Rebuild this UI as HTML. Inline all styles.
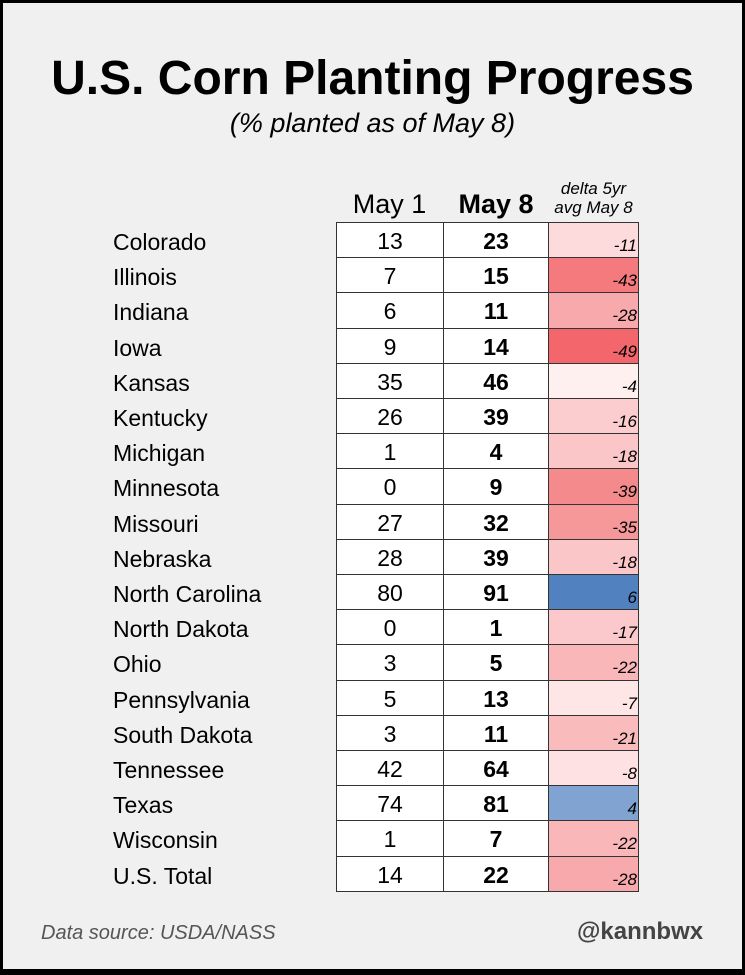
<!DOCTYPE html><html><head><style>
body{margin:0;width:745px;height:975px;background:#000;font-family:"Liberation Sans",Arial,sans-serif;}
#f{position:absolute;left:3px;top:3px;width:739px;height:966px;background:#f0f0f0;}
.a{position:absolute;white-space:nowrap;}
.c{position:absolute;box-sizing:border-box;border:1px solid #333;text-align:center;font-size:23px;}
</style></head><body><div id="f"></div>
<div class="a" style="left:0;width:745px;top:51px;text-align:center;font-size:48px;font-weight:bold;">U.S. Corn Planting Progress</div>
<div class="a" style="left:0;width:745px;top:108px;text-align:center;font-size:27px;font-style:italic;">(% planted as of May 8)</div>
<div class="a" style="left:336px;width:107px;top:189px;text-align:center;font-size:27px;">May 1</div>
<div class="a" style="left:443px;width:106px;top:189px;text-align:center;font-size:27px;font-weight:bold;">May 8</div>
<div class="a" style="left:548px;width:91px;top:179px;text-align:center;font-size:17px;font-style:italic;line-height:19px;">delta 5yr<br>avg May 8</div>
<div id="t"></div>
<div class="a" style="left:41px;top:922px;font-size:20px;font-style:italic;color:#555;">Data source: USDA/NASS</div>
<div class="a" style="left:577px;top:918px;font-size:24px;font-weight:bold;color:#444;">@kannbwx</div>
<script>
var d=[["Colorado",13,23,-11,"#fddadb"],["Illinois",7,15,-43,"#f47a7e"],["Indiana",6,11,-28,"#f8a9ab"],["Iowa",9,14,-49,"#f3676c"],["Kansas",35,46,-4,"#fff0f0"],["Kentucky",26,39,-16,"#fccdcf"],["Michigan",1,4,-18,"#fbc6c8"],["Minnesota",0,9,-39,"#f58a8d"],["Missouri",27,32,-35,"#f6979a"],["Nebraska",28,39,-18,"#fbc6c8"],["North Carolina",80,91,6,"#5181bf"],["North Dakota",0,1,-17,"#fbc9cb"],["Ohio",3,5,-22,"#fab7b9"],["Pennsylvania",5,13,-7,"#fee5e6"],["South Dakota",3,11,-21,"#fabbbc"],["Tennessee",42,64,-8,"#fee2e3"],["Texas",74,81,4,"#80a3d1"],["Wisconsin",1,7,-22,"#fab7b9"],["U.S. Total",14,22,-28,"#f8a9ab"]];
var h="";d.forEach(function(r,i){var y=222+35.2*i;
h+='<div class="a" style="left:113px;top:'+(y+7)+'px;font-size:23px;">'+r[0]+'</div>';
h+='<div class="c" style="left:336px;top:'+y+'px;width:108px;height:36.2px;background:#fff;line-height:37px;">'+r[1]+'</div>';
h+='<div class="c" style="left:443px;top:'+y+'px;width:106px;height:36.2px;background:#fff;line-height:37px;font-weight:bold;">'+r[2]+'</div>';
h+='<div class="c" style="left:548px;top:'+y+'px;width:91px;height:36.2px;background:'+r[4]+';font-size:17px;font-style:italic;text-align:right;padding:13px 1px 0 0;line-height:20px;">'+r[3]+'</div>';});
document.getElementById("t").innerHTML=h;
</script></body></html>
